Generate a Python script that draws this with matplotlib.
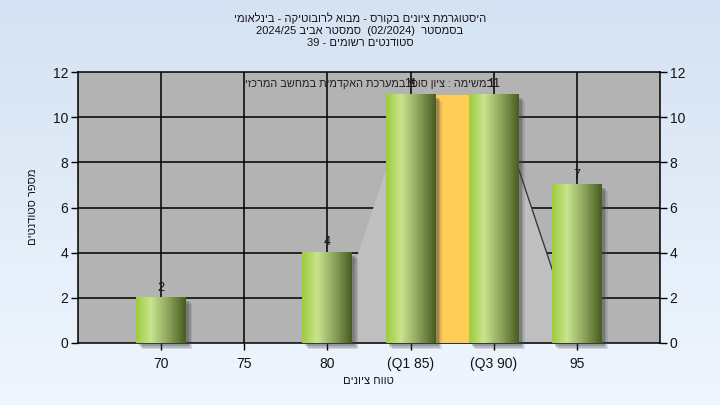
import numpy as np
import matplotlib
matplotlib.use("Agg")
import matplotlib.pyplot as plt
from matplotlib.colors import LinearSegmentedColormap
from matplotlib.patches import Rectangle
from matplotlib.transforms import ScaledTranslation

plt.rcParams["font.family"] = ["Liberation Sans", "DejaVu Sans"]

# ── Data ─────────────────────────────────────────────────────────────────────
categories = ["70", "75", "80", "(Q1 85)", "(Q3 90)", "95"]
counts = [2, 0, 4, 11, 11, 7]
# light grey area behind the bars (rises to Q1, falls after Q3)
area_vals = [0, 0, 0, 11, 11, 0]
iqr_height = 11  # orange box between Q1 and Q3
y_ticks = [0, 2, 4, 6, 8, 10, 12]


def rtl(s):
    # matplotlib has no bidi: feed hebrew in visual order
    return s[::-1]


title1 = rtl("היסטוגרמת ציונים בקורס - מבוא לרובוטיקה - בינלאומי")
title2 = "2024/25 " + rtl("סמסטר אביב") + "  (02/2024)  " + rtl("בסמסטר")
title3 = "39 - " + rtl("סטודנטים רשומים")
inner_title = rtl("במשימה : ציון סופי במערכת האקדמית במחשב המרכזי")
xlabel = rtl("טווח ציונים")
ylabel = rtl("מספר סטודנטים")

TXT = "#141414"

fig = plt.figure(figsize=(7.2, 4.05), dpi=100)

# background gradient
bg = fig.add_axes([0, 0, 1, 1], zorder=-10)
bg.imshow(np.linspace(0, 1, 256).reshape(-1, 1), aspect="auto",
          cmap=LinearSegmentedColormap.from_list("bg", ["#d5e2f3", "#eff6fe"]),
          extent=[0, 1, 0, 1])
bg.axis("off")

ax = fig.add_axes([78 / 720, 1 - 343 / 405, 582 / 720, 271 / 405])
ax.set_facecolor("#b3b3b3")

pos = np.arange(1, len(categories) + 1)
bw = 0.6

# grid
for yv in y_ticks[1:-1]:
    ax.axhline(yv, color="black", lw=1.1, zorder=1)
for xv in pos:
    ax.axvline(xv, color="black", lw=1.1, zorder=1)

# light grey area + its right edge line
ax.fill_between(pos, area_vals, color="#bfbfbf", lw=0, zorder=2)
ax.plot(pos[4:6], area_vals[4:6], color="#3a3a3a", lw=1, zorder=2.5)

# orange IQR box
ax.bar((pos[3] + pos[4]) / 2, iqr_height, width=pos[4] - pos[3],
       color="#ffcc55", lw=0, zorder=2.8)

# bars with drop shadow + horizontal gradient
grad_cmap = LinearSegmentedColormap.from_list(
    "bar", [(0, "#9ccc3c"), (0.3, "#c9e48e"), (0.65, "#8ba45c"), (1, "#485c20")])
grad = np.linspace(0, 1, 128).reshape(1, -1)

for x, h in zip(pos, counts):
    if h <= 0:
        continue
    for off, a in [(0.06, 0.14), (0.045, 0.2), (0.03, 0.28)]:
        tr = ax.transData + ScaledTranslation(off, -off, fig.dpi_scale_trans)
        ax.add_patch(Rectangle((x - bw / 2, 0), bw, h, transform=tr,
                               facecolor="#404040", alpha=a, lw=0,
                               zorder=3, clip_on=False))
    ax.imshow(grad, extent=[x - bw / 2, x + bw / 2, 0, h], aspect="auto",
              cmap=grad_cmap, interpolation="bilinear", zorder=4)
    ax.annotate(str(h), (x, h), xytext=(0, 3), textcoords="offset points",
                ha="center", va="bottom", fontsize=9, color=TXT, zorder=6)

ax.text(0.5, 0.955, inner_title, transform=ax.transAxes, ha="center",
        va="center", fontsize=7.8, color="#202020", zorder=5)

ax.set_xlim(0, len(categories) + 1)
ax.set_ylim(0, 12)
ax.set_xticks(pos)
ax.set_xticklabels(categories)
ax.set_yticks(y_ticks)
ax.tick_params(axis="both", direction="out", length=5, width=1,
               labelsize=10, colors="black", labelcolor=TXT)
ax.tick_params(axis="y", right=True, labelright=True, pad=2)
ax.tick_params(axis="x", pad=5)
for sp in ax.spines.values():
    sp.set_color("black")
    sp.set_linewidth(1.1)

fig.text(368 / 720, 1 - 381 / 405, xlabel, ha="center", va="center",
         fontsize=8, color=TXT)
fig.text(33 / 720, 1 - 207 / 405, ylabel, ha="center", va="center",
         rotation=90, fontsize=8, color=TXT)

fig.text(0.5, 1 - 18 / 405, title1, ha="center", va="center", fontsize=8, color=TXT)
fig.text(0.5, 1 - 31 / 405, title2, ha="center", va="center", fontsize=8, color=TXT)
fig.text(0.5, 1 - 43 / 405, title3, ha="center", va="center", fontsize=8, color=TXT)

fig.savefig("out.png", dpi=100)
